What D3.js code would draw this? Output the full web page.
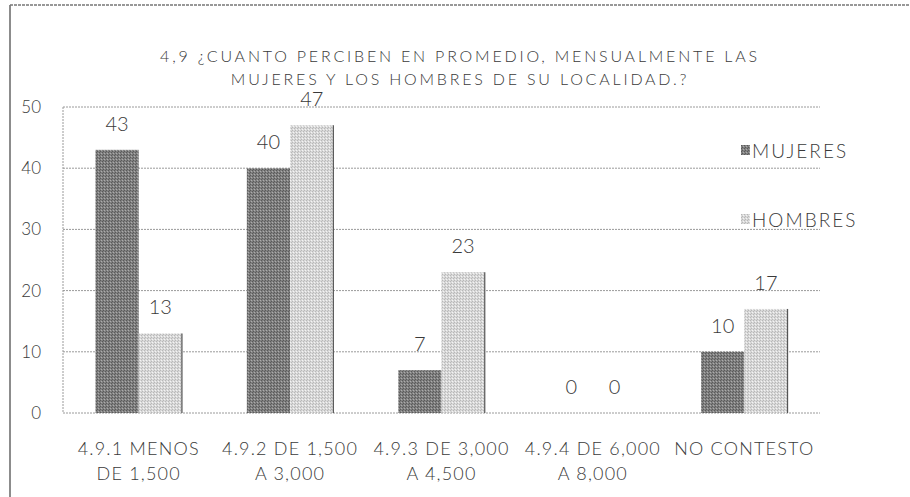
<!DOCTYPE html>
<html>
<head>
<meta charset="utf-8">
<script src="https://cdn.jsdelivr.net/npm/d3@7"></script>
<style>
  body { margin: 0; background: #fff; }
  text { font-family: "Lato", "Open Sans", sans-serif; fill: #3a3a3a; }
</style>
</head>
<body>
<div id="chart"></div>
<script>
// chart data
var categories = [
  ["4.9.1 MENOS", "DE 1,500"],
  ["4.9.2 DE 1,500", "A 3,000"],
  ["4.9.3 DE 3,000", "A 4,500"],
  ["4.9.4 DE 6,000", "A 8,000"],
  ["NO CONTESTO", ""]
];
var seriesNames = ["MUJERES", "HOMBRES"];
var mujeres = [43, 40, 7, 0, 10];
var hombres = [13, 47, 23, 0, 17];
var yTicks = [0, 10, 20, 30, 40, 50];
var titleLines = [
  "4,9 \u00BFCUANTO PERCIBEN EN PROMEDIO, MENSUALMENTE LAS",
  "MUJERES Y LOS HOMBRES DE SU LOCALIDAD.?"
];

var svgWidth = 910;
var svgHeight = 497;

var margin = {
  top: 107,
  right: 90,
  bottom: 84,
  left: 63
};

var width = svgWidth - margin.left - margin.right;
var height = svgHeight - margin.top - margin.bottom;

var svg = d3.select("#chart")
  .append("svg")
  .attr("width", svgWidth)
  .attr("height", svgHeight);

// speckled fills like the scanned bars
var defs = svg.append("defs");
function makePattern(id, base, dots) {
  var p = defs.append("pattern")
    .attr("id", id)
    .attr("patternUnits", "userSpaceOnUse")
    .attr("width", 3)
    .attr("height", 3);
  p.append("rect").attr("width", 3).attr("height", 3).attr("fill", base);
  p.append("rect").attr("x", 0).attr("y", 0).attr("width", 1).attr("height", 1).attr("fill", dots[0]);
  p.append("rect").attr("x", 2).attr("y", 1).attr("width", 1).attr("height", 1).attr("fill", dots[1]);
  p.append("rect").attr("x", 1).attr("y", 2).attr("width", 1).attr("height", 1).attr("fill", dots[0]);
}
makePattern("darkFill", "#808080", ["#5a5a5a", "#acacac"]);
makePattern("lightFill", "#d8d8d8", ["#b8b8b8", "#f4f4f4"]);
var fills = ["url(#darkFill)", "url(#lightFill)"];

// outer frame (left and top edge of the scan)
svg.append("line")
  .attr("x1", 10).attr("y1", 5).attr("x2", 10).attr("y2", svgHeight)
  .attr("stroke", "#666").attr("stroke-width", 1.5);
svg.append("line")
  .attr("x1", 10).attr("y1", 5).attr("x2", svgWidth).attr("y2", 5)
  .attr("stroke", "#777").attr("stroke-width", 1.5).attr("stroke-dasharray", "3,1");

var chart = svg.append("g")
  .attr("transform", `translate(${margin.left}, ${margin.top})`);

var x0 = d3.scaleBand()
  .domain(d3.range(categories.length))
  .range([0, width]);

var x1 = d3.scaleBand()
  .domain(d3.range(seriesNames.length))
  .range([0, x0.bandwidth()])
  .paddingOuter(0.75)
  .paddingInner(0);

var y = d3.scaleLinear()
  .domain([0, 50])
  .range([height, 0]);

// gridlines
chart.append("g")
  .selectAll("line")
  .data(yTicks)
  .enter()
  .append("line")
  .attr("x1", 0)
  .attr("x2", width)
  .attr("y1", d => y(d))
  .attr("y2", d => y(d))
  .attr("stroke", "#9a9a9a")
  .attr("stroke-width", 1)
  .attr("stroke-dasharray", "2,1");

chart.append("line")
  .attr("x1", 0).attr("x2", 0)
  .attr("y1", 0).attr("y2", height)
  .attr("stroke", "#9a9a9a")
  .attr("stroke-dasharray", "2,1");

// y axis labels
var yAxis = chart.append("g")
  .attr("transform", "translate(-22, 0)")
  .call(d3.axisLeft(y).tickValues(yTicks).tickSize(0).tickPadding(0));
yAxis.select(".domain").remove();
yAxis.selectAll("text")
  .attr("font-size", 17)
  .attr("font-family", "Lato, sans-serif")
  .attr("font-weight", 300)
  .attr("fill", "#222");

// bars
var series = [mujeres, hombres];
series.forEach(function(values, s) {
  var g = chart.append("g");
  g.selectAll("rect")
    .data(values)
    .enter()
    .append("rect")
    .attr("x", (d, i) => x0(i) + x1(s))
    .attr("y", d => y(d))
    .attr("width", x1.bandwidth())
    .attr("height", d => height - y(d))
    .attr("fill", fills[s]);

  if (s === 1) {
    g.selectAll("line")
      .data(values)
      .enter()
      .append("line")
      .attr("x1", (d, i) => x0(i) + x1(s) + x1.bandwidth())
      .attr("x2", (d, i) => x0(i) + x1(s) + x1.bandwidth())
      .attr("y1", d => y(d))
      .attr("y2", height)
      .attr("stroke", d => d > 0 ? "#555" : "none")
      .attr("stroke-width", 1.2);
  }

  g.selectAll("text")
    .data(values)
    .enter()
    .append("text")
    .attr("x", (d, i) => x0(i) + x1(s) + x1.bandwidth() / 2)
    .attr("y", d => y(d) - 19)
    .attr("text-anchor", "middle")
    .attr("font-size", 20)
    .attr("font-weight", 300)
    .attr("fill", "#222")
    .text(d => d);
});

// category labels
var xLabels = chart.append("g")
  .attr("transform", `translate(0, ${height})`)
  .selectAll("text")
  .data(categories)
  .enter()
  .append("text")
  .attr("text-anchor", "middle")
  .attr("font-size", 18)
  .attr("font-weight", 300)
  .attr("fill", "#222")
  .attr("letter-spacing", 1.2);

xLabels.append("tspan")
  .attr("x", (d, i) => x0(i) + x0.bandwidth() / 2)
  .attr("y", 42)
  .text(d => d[0]);
xLabels.append("tspan")
  .attr("x", (d, i) => x0(i) + x0.bandwidth() / 2)
  .attr("y", 67)
  .text(d => d[1]);

// title
svg.append("g")
  .selectAll("text")
  .data(titleLines)
  .enter()
  .append("text")
  .attr("x", 460)
  .attr("y", (d, i) => 62 + i * 23)
  .attr("text-anchor", "middle")
  .attr("font-size", 16)
  .attr("font-weight", 300)
  .attr("fill", "#222")
  .attr("letter-spacing", 2.8)
  .text(d => d);

// legend
var legend = svg.append("g")
  .attr("transform", "translate(741, 145)");
var legendItem = legend.selectAll("g")
  .data(seriesNames)
  .enter()
  .append("g")
  .attr("transform", (d, i) => `translate(0, ${i * 69})`);
legendItem.append("rect")
  .attr("width", 9)
  .attr("height", 10)
  .attr("fill", (d, i) => fills[i]);
legendItem.append("text")
  .attr("x", 11)
  .attr("y", 13)
  .attr("font-size", 19)
  .attr("font-weight", 300)
  .attr("fill", "#222")
  .attr("letter-spacing", 2)
  .text(d => d);
</script>
</body>
</html>
